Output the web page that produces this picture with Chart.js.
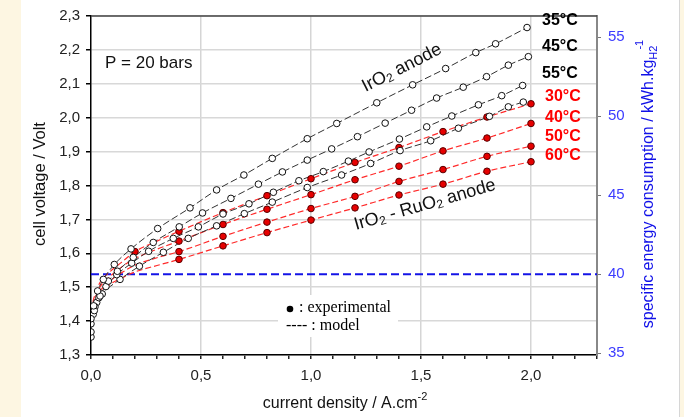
<!DOCTYPE html>
<html>
<head>
<meta charset="utf-8">
<script src="https://cdn.jsdelivr.net/npm/chart.js@4.4.0/dist/chart.umd.min.js"></script>
<style>
html, body { margin: 0; padding: 0; background: #fff; }
#wrap { width: 684px; height: 417px; position: relative; }
</style>
</head>
<body>
<div id="wrap"><canvas id="chart" width="684" height="417"></canvas></div>
<script>
// IrO2 anode, open circles (current density A/cm2, cell voltage V)
var xIr35 = [0, 0.012, 0.03, 0.056, 0.106, 0.182, 0.303, 0.45, 0.571, 0.695, 0.824, 0.983, 1.117, 1.299, 1.462, 1.612, 1.749, 1.839, 1.982];
var vIr35 = [1.407, 1.445, 1.489, 1.523, 1.567, 1.613, 1.673, 1.734, 1.787, 1.831, 1.880, 1.938, 1.983, 2.044, 2.097, 2.145, 2.192, 2.218, 2.266];
var xIr45 = [0, 0.015, 0.041, 0.079, 0.12, 0.192, 0.283, 0.401, 0.507, 0.636, 0.761, 0.870, 0.983, 1.094, 1.211, 1.337, 1.457, 1.571, 1.692, 1.798, 1.897, 1.988];
var vIr45 = [1.392, 1.431, 1.474, 1.518, 1.547, 1.588, 1.632, 1.678, 1.719, 1.762, 1.804, 1.840, 1.875, 1.908, 1.944, 1.984, 2.022, 2.058, 2.090, 2.121, 2.155, 2.180];
var xIr55 = [0, 0.018, 0.036, 0.068, 0.117, 0.185, 0.262, 0.374, 0.488, 0.600, 0.718, 0.829, 0.945, 1.056, 1.170, 1.264, 1.402, 1.526, 1.640, 1.761, 1.867, 1.962];
var vIr55 = [1.368, 1.442, 1.469, 1.502, 1.537, 1.571, 1.606, 1.644, 1.678, 1.716, 1.746, 1.780, 1.814, 1.841, 1.872, 1.899, 1.937, 1.973, 2.005, 2.038, 2.065, 2.095];
var xIr4 = [0, 0.01, 0.026, 0.051, 0.132, 0.22, 0.329, 0.442, 0.571, 0.697, 0.824, 0.983, 1.139, 1.271, 1.405, 1.544, 1.670, 1.811, 1.897, 1.965];
var vIr4 = [1.353, 1.420, 1.455, 1.480, 1.523, 1.562, 1.603, 1.644, 1.681, 1.717, 1.751, 1.794, 1.831, 1.865, 1.903, 1.932, 1.969, 2.004, 2.032, 2.046];

// IrO2 - RuO2 anode, filled red points
var xRu = [0.2, 0.4, 0.6, 0.8, 1.0, 1.2, 1.4, 1.6, 1.8, 2.0];
var vRu30 = [1.605, 1.665, 1.720, 1.770, 1.820, 1.868, 1.912, 1.959, 2.002, 2.041];
var vRu40 = [null, 1.636, 1.685, 1.730, 1.773, 1.817, 1.857, 1.902, 1.940, 1.983];
var vRu50 = [null, 1.605, 1.650, 1.692, 1.732, 1.768, 1.812, 1.847, 1.886, 1.916];
var vRu60 = [null, 1.582, 1.622, 1.661, 1.698, 1.734, 1.772, 1.804, 1.842, 1.870];

// model curves for IrO2 - RuO2 (red dashed)
var xModel = [0.003, 0.01, 0.02, 0.04, 0.08, 0.14, 0.2, 0.3, 0.4, 0.6, 0.8, 1.0, 1.2, 1.4, 1.6, 1.8, 2.0];
var mRu30 = [1.43, 1.46, 1.48, 1.513, 1.542, 1.574, 1.605, 1.636, 1.665, 1.720, 1.770, 1.820, 1.868, 1.912, 1.959, 2.002, 2.041];
var mRu40 = [1.42, 1.45, 1.47, 1.50, 1.528, 1.560, 1.585, 1.612, 1.636, 1.685, 1.730, 1.773, 1.817, 1.857, 1.902, 1.940, 1.983];
var mRu50 = [1.41, 1.44, 1.46, 1.487, 1.515, 1.543, 1.565, 1.587, 1.605, 1.650, 1.692, 1.732, 1.768, 1.812, 1.847, 1.886, 1.916];
var mRu60 = [1.40, 1.43, 1.45, 1.474, 1.505, 1.527, 1.545, 1.564, 1.582, 1.622, 1.661, 1.698, 1.734, 1.772, 1.804, 1.842, 1.870];

// specific energy reference (right axis, kWh/kg H2)
var energyLevel = 40;
var energyTicks = [35, 40, 45, 50, 55];

var blackLabels = ['35°C', '45°C', '55°C'];
var redLabels = ['30°C', '40°C', '50°C', '60°C'];

function pts(xs, ys) {
    return xs.map(function (x, i) { return { x: x, y: ys[i] }; }).filter(function (p) { return p.y !== null; });
}

var SANS = '"Liberation Sans", Arial, sans-serif';
var SERIF = '"Liberation Serif", "Times New Roman", serif';

var datasets = [];
datasets.push({
    data: [{ x: 0, y: energyLevel }, { x: 2.3, y: energyLevel }],
    yAxisID: 'y2', borderColor: '#1414e6', borderWidth: 2, borderDash: [8, 4],
    pointRadius: 0, order: 3
});
[[xIr35, vIr35], [xIr45, vIr45], [xIr55, vIr55], [xIr4, vIr4]].forEach(function (s) {
    datasets.push({
        data: pts(s[0].slice(1), s[1].slice(1)),
        borderColor: '#333', borderWidth: 1, borderDash: [7, 3],
        cubicInterpolationMode: 'monotone', pointRadius: 0, order: 2
    });
    datasets.push({
        data: pts(s[0], s[1]), showLine: false,
        pointRadius: 3.3, pointBackgroundColor: '#fff', pointBorderColor: '#111', pointBorderWidth: 1, order: 0
    });
});
[mRu30, mRu40, mRu50, mRu60].forEach(function (m) {
    datasets.push({
        data: pts(xModel, m),
        borderColor: '#ff2a2a', borderWidth: 1.2, borderDash: [6, 3],
        cubicInterpolationMode: 'monotone', pointRadius: 0, order: 2
    });
});
[vRu30, vRu40, vRu50, vRu60].forEach(function (v) {
    datasets.push({
        data: pts(xRu, v), showLine: false,
        pointRadius: 3.3, pointBackgroundColor: '#e60000', pointBorderColor: '#5a0000', pointBorderWidth: 1, order: 0
    });
});

function drawParts(ctx, parts, x, y, align) {
    var total = 0;
    parts.forEach(function (p) {
        ctx.font = (p.bold ? 'bold ' : '') + p.size + 'px ' + (p.family || SANS);
        p.w = ctx.measureText(p.t).width;
        total += p.w + (p.gap || 0);
    });
    var cx = align === 'center' ? x - total / 2 : x;
    ctx.textAlign = 'left';
    ctx.textBaseline = 'middle';
    parts.forEach(function (p) {
        ctx.font = (p.bold ? 'bold ' : '') + p.size + 'px ' + (p.family || SANS);
        ctx.fillText(p.t, cx, y + (p.dy || 0));
        cx += p.w + (p.gap || 0);
    });
}

var decorPlugin = {
    id: 'decor',
    beforeDraw: function (chart) {
        var ctx = chart.ctx;
        ctx.save();
        ctx.fillStyle = '#fff';
        ctx.fillRect(0, 0, chart.width, chart.height);
        ctx.fillStyle = '#fdf6e2';
        ctx.fillRect(0, 0, 21, chart.height);
        ctx.fillRect(680, 0, 4, chart.height);
        ctx.fillStyle = '#d6d6d6';
        ctx.fillRect(679, 0, 1, chart.height);
        ctx.restore();
    },
    afterDraw: function (chart) {
        var ctx = chart.ctx, a = chart.chartArea;
        ctx.save();
        // top frame
        ctx.strokeStyle = '#444';
        ctx.lineWidth = 1.5;
        ctx.beginPath();
        ctx.moveTo(a.left, a.top);
        ctx.lineTo(a.right, a.top);
        ctx.stroke();

        ctx.fillStyle = '#111';
        drawParts(ctx, [{ t: 'P = 20 bars', size: 17 }], 105, 63, 'left');

        // temperature labels
        var by = [21, 47, 74];
        blackLabels.forEach(function (t, i) {
            ctx.fillStyle = '#000';
            drawParts(ctx, [{ t: t, size: 16, bold: true }], 542, by[i], 'left');
        });
        var ry = [97, 118, 137, 156];
        redLabels.forEach(function (t, i) {
            ctx.fillStyle = '#ff0000';
            drawParts(ctx, [{ t: t, size: 16, bold: true }], 545, ry[i], 'left');
        });

        // rotated anode labels
        ctx.fillStyle = '#111';
        ctx.save();
        ctx.translate(402, 68);
        ctx.rotate(-27 * Math.PI / 180);
        drawParts(ctx, [{ t: 'IrO', size: 18 }, { t: '2', size: 12, dy: 4 }, { t: ' anode', size: 18 }], 0, 0, 'center');
        ctx.restore();
        ctx.save();
        ctx.translate(425, 205);
        ctx.rotate(-16 * Math.PI / 180);
        drawParts(ctx, [{ t: 'IrO', size: 18 }, { t: '2', size: 12, dy: 4 }, { t: ' - RuO', size: 18 }, { t: '2', size: 12, dy: 4 }, { t: ' anode', size: 18 }], 0, 0, 'center');
        ctx.restore();

        // legend box
        ctx.fillStyle = '#fff';
        ctx.fillRect(278, 295, 120, 42);
        ctx.fillStyle = '#000';
        ctx.beginPath();
        ctx.arc(290, 309, 3.3, 0, Math.PI * 2);
        ctx.fill();
        drawParts(ctx, [{ t: ': experimental', size: 16, family: SERIF }], 299, 308, 'left');
        drawParts(ctx, [{ t: '---- : model', size: 16, family: SERIF }], 286, 326, 'left');

        // axis titles
        ctx.fillStyle = '#111';
        drawParts(ctx, [{ t: 'current density / A.cm', size: 16 }, { t: '-2', size: 11, dy: -7 }], 345, 404, 'center');
        ctx.save();
        ctx.translate(40, 184);
        ctx.rotate(-Math.PI / 2);
        drawParts(ctx, [{ t: 'cell voltage / Volt', size: 16.5 }], 0, 0, 'center');
        ctx.restore();
        ctx.save();
        ctx.fillStyle = '#1010e8';
        ctx.translate(649, 184);
        ctx.rotate(-Math.PI / 2);
        drawParts(ctx, [{ t: 'specific energy consumption / kWh.kg', size: 16 }, { t: 'H2', size: 11, dy: 5, gap: -4 }, { t: '-1', size: 11, dy: -9 }], 0, 0, 'center');
        ctx.restore();
        ctx.restore();
    }
};

function fmt(v) { return v.toFixed(1).replace('.', ','); }

new Chart(document.getElementById('chart'), {
    type: 'line',
    data: { datasets: datasets },
    plugins: [decorPlugin],
    options: {
        responsive: false,
        animation: false,
        layout: { padding: { top: 11, left: 0, right: 0, bottom: 0 } },
        plugins: { legend: { display: false }, tooltip: { enabled: false } },
        scales: {
            x: {
                type: 'linear', min: 0, max: 2.3,
                afterFit: function (s) { s.height = 62; },
                ticks: {
                    stepSize: 0.1, autoSkip: false, maxRotation: 0, padding: 8,
                    color: '#222', font: { family: SANS, size: 15 },
                    callback: function (v) { return Math.round(v * 10) % 5 === 0 ? fmt(v) : ''; }
                },
                grid: {
                    color: function (c) {
                        var v = c.tick ? Math.round(c.tick.value * 10) : 1;
                        return (v % 5 === 0 && v > 0) ? '#d5d5d5' : 'rgba(0,0,0,0)';
                    },
                    lineWidth: 1.5, tickLength: 4, tickColor: '#222'
                },
                border: { color: '#000', width: 1.5 }
            },
            y: {
                type: 'linear', position: 'left', min: 1.3, max: 2.3,
                afterFit: function (s) { s.width = 91; },
                ticks: {
                    stepSize: 0.1, padding: 6, color: '#222', font: { family: SANS, size: 15 },
                    callback: function (v) { return fmt(v); }
                },
                grid: { color: '#d8d8d8', lineWidth: 1.5, tickLength: 5, tickColor: '#000' },
                border: { color: '#000', width: 1.5 }
            },
            y2: {
                type: 'linear', position: 'right', min: 34.89, max: 56.33,
                afterFit: function (s) { s.width = 87; },
                afterBuildTicks: function (s) { s.ticks = energyTicks.map(function (v) { return { value: v }; }); },
                ticks: { padding: 7, color: '#3c3cff', font: { family: SANS, size: 15 } },
                grid: { drawOnChartArea: false, tickLength: 4, tickColor: '#777' },
                border: { color: '#888', width: 2 }
            }
        }
    }
});
</script>
</body>
</html>
